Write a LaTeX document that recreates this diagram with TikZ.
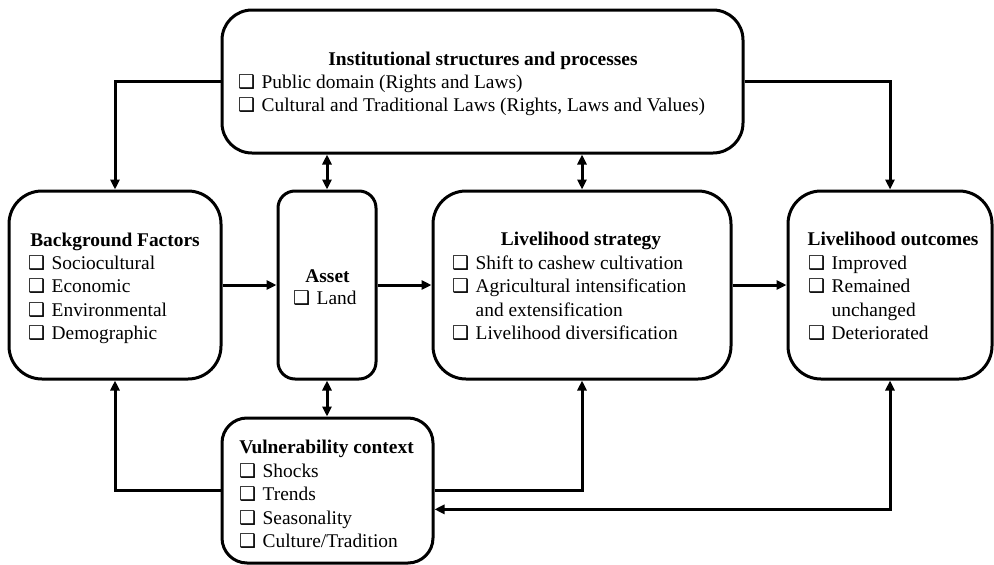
\documentclass[tikz,border=0pt]{standalone}
\usepackage{fontspec}
\setmainfont{Liberation Serif}
\newfontfamily\dvs{DejaVu Sans}
\usetikzlibrary{arrows.meta}
\newcommand\cbx{\makebox[23.5pt][l]{\raisebox{0pt}{\dvs\fontsize{19}{19}\selectfont ❑}}}
\tikzset{
  box/.style={draw, line width=3pt, rectangle, inner sep=0pt},
  ttl/.style={inner sep=0pt, anchor=base, font=\fontsize{19.4}{23.4}\selectfont\bfseries},
  itm/.style={inner sep=0pt, anchor=base west, font=\fontsize{19.4}{23.4}\selectfont},
  conn/.style={line width=3pt},
  tip/.tip={Triangle[length=10pt,width=9pt]}
}
\begin{document}
\begin{tikzpicture}[x=1pt,y=-1pt]
\useasboundingbox (0,0) rectangle (994,565);
% boxes
\node[box, rounded corners=30pt, minimum width=521pt, minimum height=143pt] (inst) at (482.5,81.5) {};
\node[box, rounded corners=33pt, minimum width=212pt, minimum height=188pt] (bg) at (115,285) {};
\node[box, rounded corners=17pt, minimum width=98pt, minimum height=188pt] (asset) at (327,285) {};
\node[box, rounded corners=33pt, minimum width=298pt, minimum height=188pt] (strat) at (582,285) {};
\node[box, rounded corners=33pt, minimum width=204pt, minimum height=188pt] (out) at (890,285) {};
\node[box, rounded corners=25pt, minimum width=211pt, minimum height=145pt] (vul) at (327.5,490.5) {};
% texts
\node[ttl] (instT) at (483,65.5) {Institutional structures and processes};
\node[itm] (instI) at (238,88.5) {\begin{tabular}[t]{@{}l@{}}
\cbx Public domain (Rights and Laws)\\
\cbx Cultural and Traditional Laws (Rights, Laws and Values)
\end{tabular}};
\node[ttl] (bgT) at (115,246.5) {Background Factors};
\node[itm] (bgI) at (28,269.5) {\begin{tabular}[t]{@{}l@{}}
\cbx Sociocultural\\
\cbx Economic\\
\cbx Environmental\\
\cbx Demographic
\end{tabular}};
\node[ttl] (assetT) at (327.5,282.5) {Asset};
\node[itm] (assetI) at (293,304.5) {\cbx Land};
\node[ttl] (stratT) at (581,245.5) {Livelihood strategy};
\node[itm] (stratI) at (452,269.5) {\begin{tabular}[t]{@{}l@{}}
\cbx Shift to cashew cultivation\\
\cbx Agricultural intensification\\
\hspace{23.5pt}and extensification\\
\cbx Livelihood diversification
\end{tabular}};
\node[ttl] (outT) at (893,245.5) {Livelihood outcomes};
\node[itm] (outI) at (808,269.5) {\begin{tabular}[t]{@{}l@{}}
\cbx Improved\\
\cbx Remained\\
\hspace{23.5pt}unchanged\\
\cbx Deteriorated
\end{tabular}};
\node[ttl] (vulT) at (326.5,453.5) {Vulnerability context};
\node[itm] (vulI) at (239,477.5) {\begin{tabular}[t]{@{}l@{}}
\cbx Shocks\\
\cbx Trends\\
\cbx Seasonality\\
\cbx Culture/Tradition
\end{tabular}};
% connectors
\draw[conn, -tip] (bg.east) -- (asset.west);
\draw[conn, -tip] (asset.east) -- (strat.west);
\draw[conn, -tip] (strat.east) -- (out.west);
\draw[conn, tip-tip] (asset.north) -- (asset.north |- inst.south);
\draw[conn, tip-tip] (strat.north) -- (strat.north |- inst.south);
\draw[conn, tip-tip] (asset.south) -- (asset.south |- vul.north);
\draw[conn, -tip] (inst.west) -| (bg.north);
\draw[conn, -tip] (inst.east) -| (out.north);
\draw[conn, -tip] (vul.west) -| (bg.south);
\draw[conn, -tip] (vul.east) -| (strat.south);
\draw[conn, tip-tip] (vul.-10) -| (out.south);
\end{tikzpicture}
\end{document}
